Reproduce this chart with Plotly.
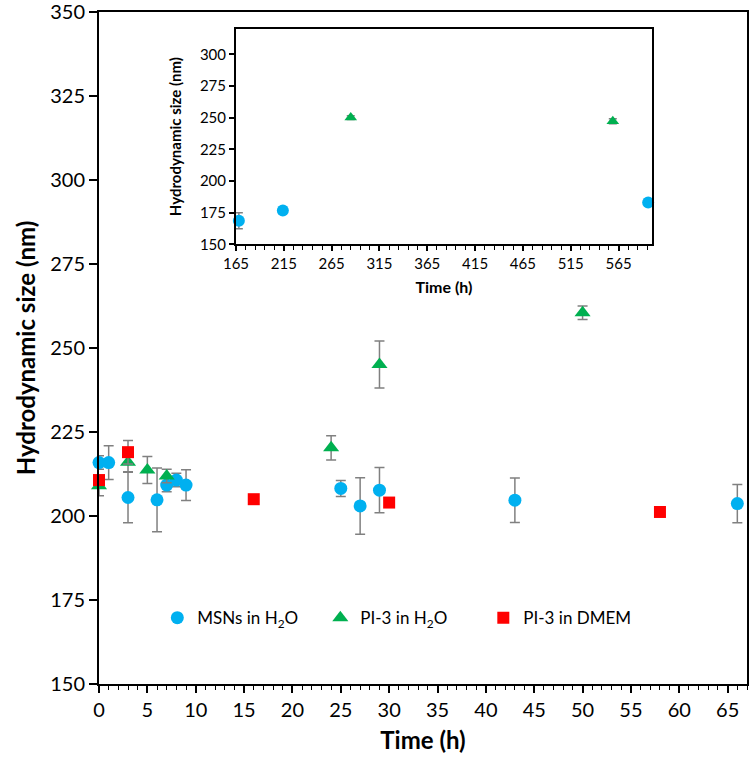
import plotly.graph_objects as go

# ---- main panel data (Time in h, size in nm) ----
msn_t = [0, 1, 3, 6, 7, 8, 9, 25, 27, 29, 43, 66]
msn_y = [215.9, 215.9, 205.5, 204.8, 209.2, 210.7, 209.2, 208.2, 203.0, 207.7, 204.7, 203.7]
msn_e = [2.0, 5.0, 7.5, 9.5, 2.0, 2.0, 4.6, 2.4, 8.4, 6.7, 6.6, 5.7]

pi_t = [0, 3, 5, 7, 24, 29, 50]
pi_y = [209.0, 216.0, 213.7, 211.9, 220.3, 245.1, 260.5]
pi_e = [3.0, 2.8, 4.0, 2.0, 3.6, 7.0, 2.0]

dm_t = [0, 3, 16, 30, 58]
dm_y = [210.7, 219.0, 205.0, 204.0, 201.2]
dm_e = [1.0, 3.5, 0.5, 0.5, 0.5]

# ---- inset data ----
in_msn_t = [168, 214, 596]
in_msn_y = [168.6, 176.7, 183.0]
in_msn_e = [6.3, 3.0, 1.0]

in_pi_t = [285, 559]
in_pi_y = [250.0, 247.2]
in_pi_e = [1.5, 2.0]

main_xticks = list(range(0, 66, 5))
main_yticks = [150, 175, 200, 225, 250, 275, 300, 325, 350]
inset_xticks = list(range(165, 566, 50))
inset_yticks = [150, 175, 200, 225, 250, 275, 300]

BLUE = "#00B0F0"
GREEN = "#00B050"
RED = "#FF0000"
ERR = "#808080"
FONT = "Lato, 'Open Sans', sans-serif"

def err(vals, w=5):
    return dict(type="data", array=vals, visible=True, color=ERR, thickness=1.5, width=w)

fig = go.Figure()

fig.add_trace(go.Scatter(x=msn_t, y=msn_y, mode="markers", name="MSNs in H<sub>2</sub>O",
                         marker=dict(symbol="circle", size=13, color=BLUE),
                         error_y=err(msn_e), cliponaxis=False))
fig.add_trace(go.Scatter(x=pi_t, y=pi_y, mode="markers", name="PI-3 in H<sub>2</sub>O",
                         marker=dict(symbol="triangle-up", size=14, color=GREEN),
                         error_y=err(pi_e), cliponaxis=False))
fig.add_trace(go.Scatter(x=dm_t, y=dm_y, mode="markers", name="PI-3 in DMEM",
                         marker=dict(symbol="square", size=12, color=RED),
                         error_y=err(dm_e), cliponaxis=False))

fig.add_trace(go.Scatter(x=in_msn_t, y=in_msn_y, mode="markers", showlegend=False,
                         marker=dict(symbol="circle", size=12, color=BLUE),
                         error_y=err(in_msn_e, 4), xaxis="x2", yaxis="y2", cliponaxis=False))
fig.add_trace(go.Scatter(x=in_pi_t, y=in_pi_y, mode="markers", showlegend=False,
                         marker=dict(symbol="triangle-up", size=11, color=GREEN),
                         error_y=err(in_pi_e, 4), xaxis="x2", yaxis="y2", cliponaxis=False))

fig.update_layout(
    width=750, height=772,
    margin=dict(l=99, r=3, t=12, b=88, autoexpand=False),
    paper_bgcolor="white", plot_bgcolor="white",
    font=dict(family=FONT, color="black"),
    showlegend=True,
    legend=dict(orientation="h", x=0.09, y=0.098, xanchor="left", yanchor="middle",
                bgcolor="rgba(0,0,0,0)", font=dict(size=17, family=FONT),
                entrywidth=118, entrywidthmode="pixels", itemwidth=30),
    xaxis=dict(range=[0, 67], tickmode="array", tickvals=main_xticks,
               ticktext=[str(v) for v in main_xticks], automargin=False,
               ticklabeloverflow="allow",
               showline=True, linecolor="black", linewidth=2, mirror=True,
               ticks="outside", ticklen=7, tickwidth=1.5, tickcolor="black",
               minor=dict(dtick=1, ticks="outside", ticklen=4, tickwidth=1, tickcolor="black"),
               showgrid=False, zeroline=False,
               tickfont=dict(size=20, family=FONT),
               title=dict(text="<b>Time (h)</b>", font=dict(size=24, family=FONT), standoff=12)),
    yaxis=dict(range=[150, 350], tickmode="array", tickvals=main_yticks,
               ticktext=[str(v) for v in main_yticks], automargin=False,
               ticklabeloverflow="allow",
               showline=True, linecolor="black", linewidth=2, mirror=True,
               ticks="outside", ticklen=8, tickwidth=1.5, tickcolor="black",
               showgrid=False, zeroline=False,
               tickfont=dict(size=20, family=FONT),
               title=dict(text="<b>Hydrodynamic size (nm)</b>", font=dict(size=24, family=FONT), standoff=8)),
    xaxis2=dict(domain=[0.2114, 0.8534], anchor="y2", range=[165, 600],
                tickmode="array", tickvals=inset_xticks, ticktext=[str(v) for v in inset_xticks],
                automargin=False, ticklabeloverflow="allow",
                showline=True, linecolor="black", linewidth=2, mirror=True,
                ticks="outside", ticklen=5, tickwidth=1.5, tickcolor="black",
                minor=dict(dtick=10, tick0=165, ticks="outside", ticklen=4, tickwidth=1, tickcolor="black"),
                showgrid=False, zeroline=False,
                tickfont=dict(size=15, family=FONT),
                title=dict(text="<b>Time (h)</b>", font=dict(size=16, family=FONT), standoff=10)),
    yaxis2=dict(domain=[0.6543, 0.9748], anchor="x2", range=[150, 320],
                tickmode="array", tickvals=inset_yticks, ticktext=[str(v) for v in inset_yticks],
                automargin=False, ticklabeloverflow="allow",
                showline=True, linecolor="black", linewidth=2, mirror=True,
                ticks="outside", ticklen=5, tickwidth=1.5, tickcolor="black",
                showgrid=False, zeroline=False,
                tickfont=dict(size=15, family=FONT),
                title=dict(text="<b>Hydrodynamic size (nm)</b>", font=dict(size=15, family=FONT), standoff=15)),
)

fig.write_html("out.html", config={"displayModeBar": False},
               post_script="document.body.style.margin='0';document.body.style.overflow='hidden';")
